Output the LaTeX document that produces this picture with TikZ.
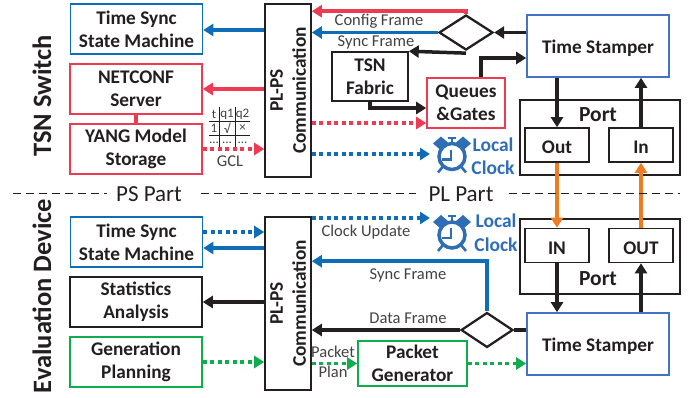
\documentclass[tikz,border=0pt]{standalone}
\usepackage{fontspec}
\setmainfont{Carlito}
\usetikzlibrary{arrows.meta,matrix,shapes.geometric}
\definecolor{tsnblue}{HTML}{0F6DB8}
\definecolor{stampblue}{HTML}{4472C4}
\definecolor{clockblue}{HTML}{2F6DB5}
\definecolor{tsnred}{HTML}{EE3B54}
\definecolor{tsngreen}{HTML}{10AD4E}
\definecolor{tsnorange}{HTML}{EE7D22}
\definecolor{tsnblack}{HTML}{231F20}
\tikzset{
  box/.style={draw=#1, line width=1.6pt, text=tsnblack, align=center, inner sep=0pt,
    font=\fontsize{19.3}{23}\selectfont\bfseries},
  box/.default=tsnblack,
  drop/.style={execute at begin node={\rule{0pt}{17.5pt}}},
  module/.style={box=#1, drop, minimum width=132pt, minimum height=50pt},
  module/.default=tsnblack,
  comm/.style={box, minimum width=46pt, minimum height=173pt},
  stamper/.style={box=stampblue, drop, minimum width=142pt, minimum height=62pt},
  portbox/.style={box, minimum width=160pt, minimum height=75pt},
  pin/.style={box, drop, minimum width=64pt, minimum height=34pt},
  splitter/.style={draw=tsnblack, line width=2.3pt, diamond, inner sep=0pt, minimum width=#1, minimum height=35pt},
  link/.style={line width=3.5pt, draw=tsnblack, -{Triangle[length=10pt,width=12pt]}},
  plain link/.style={line width=3.5pt, draw=tsnblack},
  dot link/.style={link, dash pattern=on 4pt off 3.5pt},
  tag/.style={text=tsnblack!85, inner sep=0pt, font=\fontsize{16.5}{20}\selectfont},
  side/.style={rotate=90, text=tsnblack, inner sep=0pt, font=\fontsize{26.5}{30}\selectfont\bfseries},
  part/.style={text=tsnblack, inner sep=0pt, font=\fontsize{23}{26}\selectfont},
  clocktext/.style={text=clockblue, align=center, inner sep=0pt, font=\fontsize{19.5}{23.5}\selectfont\bfseries},
  gcl matrix/.style={
    matrix of nodes, column sep=0pt, row sep=0pt,
    nodes={minimum height=14pt, anchor=center, align=center, inner sep=0pt,
      text=tsnblack!85, font=\fontsize{13}{13}\selectfont},
    column 1/.style={nodes={text width=10pt}},
    column 2/.style={nodes={text width=16pt}},
    column 3/.style={nodes={text width=15pt}}
  },
  pics/alarm clock/.style={code={
    \draw[clockblue, line width=3.5pt] (0,0) circle (13pt);
    \draw[clockblue, line width=2.6pt] (-1,-7) -- (-1,3) -- (-10,3);
    \fill[clockblue] (-19,-13) -- (-11,-20) -- (-4,-14) -- (-12,-7) -- cycle;
    \fill[clockblue] (19,-13) -- (11,-20) -- (4,-14) -- (12,-7) -- cycle;
    \draw[clockblue, line width=2pt] (-4,-19) -- (4,-19) (0,-19) -- (0,-14);
    \draw[clockblue, line width=2.6pt] (-9,10) -- (-14,16) (9,10) -- (14,16);
  }}
}
\begin{document}
\begin{tikzpicture}[x=1pt,y=-1pt]
  \useasboundingbox (0,0) rectangle (697,397);
  % upper half
  \node[module=tsnblue] (syncA) at (136.5,29) {Time Sync\\State Machine};
  \node[module=tsnred] (netconf) at (136,89) {NETCONF\\Server};
  \node[module=tsnred] (yang) at (136,149) {YANG Model\\Storage};
  \node[comm] (commA) at (288,90.5) {};
  \node[box, draw=none, rotate=90] (commtextA) at (commA) {PL-PS\\Communication};
  \node[box, drop, minimum width=76pt, minimum height=49pt] (fabric) at (370,76.5) {TSN\\Fabric};
  \node[box=tsnred, drop, minimum width=78pt, minimum height=50pt] (queues) at (466,103) {Queues\\\&Gates};
  \node[stamper] (stampA) at (598,46) {Time Stamper};
  \node[splitter=54pt] (diaA) at (466,32.5) {};
  \node[portbox] (portA) at (600,137.5) {};
  \node[box, draw=none] (porttextA) at (598,115) {\fontsize{21.5}{24}\selectfont Port};
  \node[pin] (outA) at (557,145) {Out};
  \node[pin] (inA) at (641,145) {In};
  \pic (clockA) at (452,156.5) {alarm clock};
  \coordinate (clockinA) at (430,154);
  \node[clocktext] (clocktextA) at (493,156) {Local\\Clock};
  \node[tag] (configtag) at (379,21) {Config Frame};
  \node[tag] (synctagA) at (376,42) {Sync Frame};
  \node[tag] (gcltag) at (230,161) {GCL};
  \matrix[gcl matrix] (gcl) at (229.5,128.5) {
    t & q1 & q2 \\
    1 & √ & × \\
    ... & ... & ... \\
  };
  \draw[tsnblack, line width=0.8pt] (gcl-1-1.south west) -- (gcl-1-3.south east);
  \draw[tsnblack, line width=0.8pt] (gcl-2-1.south west) -- (gcl-2-3.south east);
  \draw[tsnblack, line width=0.8pt] (gcl-1-1.north east) -- (gcl-3-1.south east);
  \draw[tsnblack, line width=0.8pt] (gcl-1-2.north east) -- (gcl-3-2.south east);

  \draw[link, draw=tsnblue, tsnblue] (commA.west |- syncA.east) ++(0,1) -- ([yshift=-1pt]syncA.east);
  \draw[link, draw=tsnred, tsnred] (commA.west |- netconf.east) -- (netconf.east);
  \draw[plain link, draw=tsnred] (netconf) -- (yang);
  \draw[dot link, draw=tsnred, tsnred] (yang.east) -- (commA.west |- yang.east);
  \draw[link, draw=tsnred, tsnred] (diaA.north) |- ([yshift=-8pt]commA.north east);
  \draw[link, draw=tsnblue, tsnblue] (diaA.west) -- (commA.east |- diaA.west);
  \draw[link] (diaA.south) ++(0,2) -- (fabric.north east);
  \draw[link] (stampA.west |- diaA.east) -- (diaA.east);
  \draw[link] (queues.north) ++(15,0) |- ([yshift=-12pt]stampA.west);
  \draw[link] (fabric.south) |- ([yshift=-5pt]queues.west);
  \draw[dot link, draw=tsnred, tsnred] ([yshift=-20pt]queues.west -| commA.east) -- ([yshift=-20pt]queues.west);
  \draw[dot link, draw=tsnblue, tsnblue] (commA.east |- clockinA) -- (clockinA);
  \draw[link] (stampA.south -| outA.north) -- (outA.north);
  \draw[link] (inA.north) -- (stampA.south -| inA.north);

  % lower half
  \node[module=tsnblue] (syncB) at (136.5,242) {Time Sync\\State Machine};
  \node[module] (stats) at (136,302) {Statistics\\Analysis};
  \node[module=tsngreen] (planning) at (136,362) {Generation\\Planning};
  \node[comm] (commB) at (288,303.5) {};
  \node[box, draw=none, rotate=90] (commtextB) at (commB) {PL-PS\\Communication};
  \node[box=tsngreen, drop, minimum width=109pt, minimum height=45pt] (generator) at (412.5,363.5) {Packet\\Generator};
  \node[stamper] (stampB) at (598,344) {Time Stamper};
  \node[splitter=52pt] (diaB) at (487,330) {};
  \node[portbox] (portB) at (600,256.5) {};
  \node[box, draw=none] (porttextB) at (598,279) {\fontsize{21.5}{24}\selectfont Port};
  \node[pin] (inB) at (557,245.5) {IN};
  \node[pin] (outB) at (641,245.5) {OUT};
  \pic (clockB) at (452,235) {alarm clock};
  \coordinate (clockinB) at (430,218);
  \node[clocktext] (clocktextB) at (496,232.5) {Local\\Clock};
  \node[tag] (updatetag) at (366,232) {Clock Update};
  \node[tag] (synctagB) at (408,275) {Sync Frame};
  \node[tag] (datatag) at (408,318) {Data Frame};
  \node[tag, align=center] (plantag) at (333,362) {Packet\\Plan};

  \draw[dot link, draw=tsnblue, tsnblue] ([yshift=10pt]syncB.east) -- ([yshift=10pt]syncB.east -| commB.west);
  \draw[link, draw=tsnblue, tsnblue] ([yshift=-6pt]syncB.east -| commB.west) -- ([yshift=-6pt]syncB.east);
  \draw[link] (commB.west |- stats.east) -- (stats.east);
  \draw[dot link, draw=tsngreen, tsngreen] (planning.east) -- (commB.west |- planning.east);
  \draw[dot link, draw=tsnblue, tsnblue] (commB.east |- clockinB) -- (clockinB);
  \draw[link, draw=tsnblue, tsnblue] (diaB.north) |- ([yshift=-45pt]commB.north east);
  \draw[link] (diaB.west) -- (commB.east |- diaB.west);
  \draw[plain link] (diaB.east) -- (stampB.west |- diaB.east);
  \draw[dot link, draw=tsngreen, tsngreen] (commB.east |- generator.west) -- (generator.west);
  \draw[dot link, draw=tsngreen, tsngreen] (generator.east) -- (stampB.west |- generator.east);
  \draw[link] (inB.south) -- (stampB.north -| inB.south);
  \draw[link] (stampB.north -| outB.south) -- (outB.south);

  % between the ports
  \draw[link, draw=tsnorange, tsnorange] (outA.south) -- (inB.north);
  \draw[link, draw=tsnorange, tsnorange] (outB.north) -- (inA.south);

  \node[side] (switchlabel) at (42,96) {TSN Switch};
  \node[side] (devicelabel) at (42,296) {Evaluation Device};
  \node[part] (pspart) at (149,194) {PS Part};
  \node[part] (plpart) at (461,194) {PL Part};
  \draw[tsnblack, line width=0.9pt, dash pattern=on 8pt off 5pt] (13,193) -- ([xshift=-9pt,yshift=1pt]pspart.west);
  \draw[tsnblack, line width=0.9pt, dash pattern=on 8pt off 5pt] (pspart.east) ++(19,-1) -- ([xshift=-12pt,yshift=1pt]plpart.west);
  \draw[tsnblack, line width=0.9pt, dash pattern=on 8pt off 5pt] (plpart.east) ++(15,-1) -- (680,193);
\end{tikzpicture}
\end{document}
